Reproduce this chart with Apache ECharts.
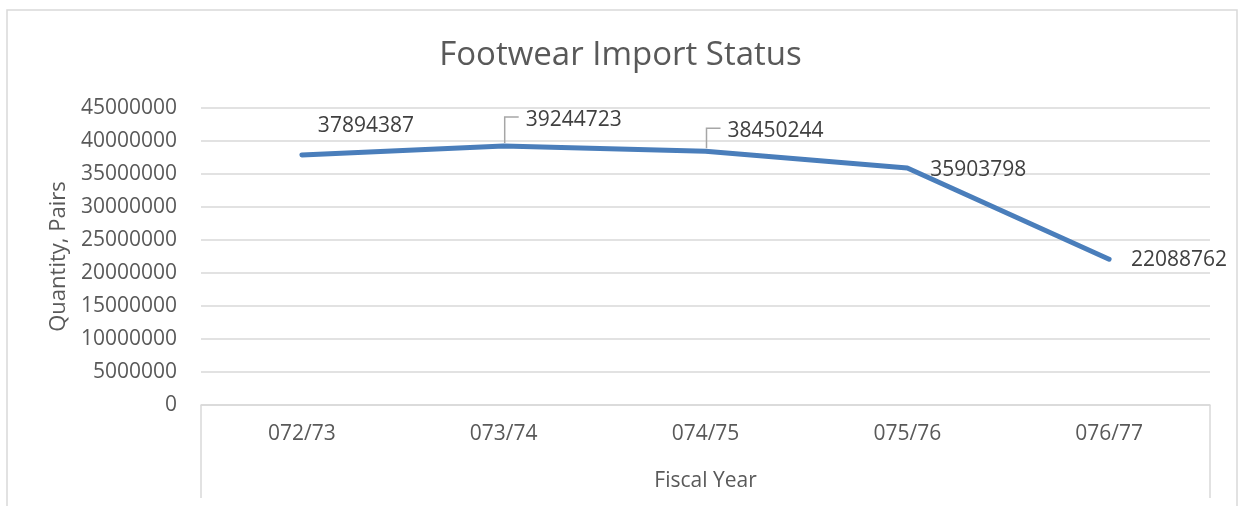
<!DOCTYPE html>
<html>
<head>
<meta charset="utf-8">
<script src="https://cdn.jsdelivr.net/npm/echarts@6/dist/echarts.min.js"></script>
<style>
  html, body { margin: 0; padding: 0; background: #fff; }
  #chart { width: 1241px; height: 506px; }
</style>
</head>
<body>
<div id="chart"></div>
<script>
const years = ["072/73", "073/74", "074/75", "075/76", "076/77"];
const quantities = [37894387, 39244723, 38450244, 35903798, 22088762];
const labelOffsets = [[64, -29], [70, -26], [70, -20], [71, 2], [70, 1]];
const leaderLines = [false, true, true, false, false];

const myChart = echarts.init(document.getElementById("chart"));
const textColor = "#595959";
const font = "Open Sans";

const points = quantities.map((v, i) => ({
    value: v,
    label: { offset: labelOffsets[i] }
}));

// elbow leader lines like excel: up from the point, then right toward the label
const renderLeader = function(params, api) {
    const i = params.dataIndex;
    if (!leaderLines[i]) {
        return null;
    }
    const p = api.coord([api.value(0), api.value(1)]);
    const top = p[1] + labelOffsets[i][1] - 3;
    return {
        type: "polyline",
        shape: { points: [[p[0] + 1, p[1] - 3], [p[0] + 1, top], [p[0] + 15, top]] },
        style: { stroke: "#a6a6a6", lineWidth: 1.5, fill: "none" },
        silent: true
    };
};

const option = {
    textStyle: { fontFamily: font, color: textColor },
    title: {
        text: "Footwear Import Status",
        left: "center",
        top: 34,
        textStyle: { fontFamily: font, fontSize: 33, fontWeight: "normal", color: textColor }
    },
    grid: { left: 201, right: 31, top: 108, bottom: 101, containLabel: false },
    xAxis: {
        type: "category",
        data: years,
        boundaryGap: true,
        name: "Fiscal Year",
        nameLocation: "middle",
        nameGap: 66,
        nameTextStyle: { fontSize: 21, color: textColor, fontFamily: font },
        axisLine: { show: true, lineStyle: { color: "#d9d9d9", width: 1.5 } },
        axisTick: { show: false },
        axisLabel: { fontSize: 21, color: textColor, margin: 19, fontFamily: font },
        splitLine: { show: false }
    },
    yAxis: {
        type: "value",
        min: 0,
        max: 45000000,
        interval: 5000000,
        name: "Quantity, Pairs",
        nameLocation: "middle",
        nameGap: 126,
        nameTextStyle: { fontSize: 22, color: textColor, fontFamily: font },
        axisLine: { show: false },
        axisTick: { show: false },
        axisLabel: {
            fontSize: 21, color: textColor, margin: 24, fontFamily: font,
            formatter: (v) => String(v)
        },
        splitLine: { lineStyle: { color: "#d9d9d9", width: 1.5 } }
    },
    series: [{
        type: "custom",
        data: quantities.map((v, i) => [i, v]),
        renderItem: renderLeader,
        z: 1,
        animation: false
    }, {
        type: "line",
        data: points,
        symbol: "circle",
        symbolSize: 1,
        showSymbol: true,
        z: 2,
        lineStyle: { color: "#4a7ebb", width: 5, cap: "round", join: "round" },
        itemStyle: { color: "#4a7ebb" },
        label: {
            show: true,
            position: "inside",
            fontSize: 21,
            color: "#404040",
            fontFamily: font
        },
        animation: false
    }],
    graphic: [
        {
            type: "rect",
            shape: { x: 7, y: 10, width: 1230, height: 520 },
            style: { fill: "none", stroke: "#d9d9d9", lineWidth: 1.5 },
            silent: true
        },
        {
            type: "line",
            shape: { x1: 201, y1: 405, x2: 201, y2: 498 },
            style: { stroke: "#d9d9d9", lineWidth: 1.5 },
            silent: true
        },
        {
            type: "line",
            shape: { x1: 1210, y1: 405, x2: 1210, y2: 498 },
            style: { stroke: "#d9d9d9", lineWidth: 1.5 },
            silent: true
        }
    ],
    animation: false
};

myChart.setOption(option);
</script>
</body>
</html>
